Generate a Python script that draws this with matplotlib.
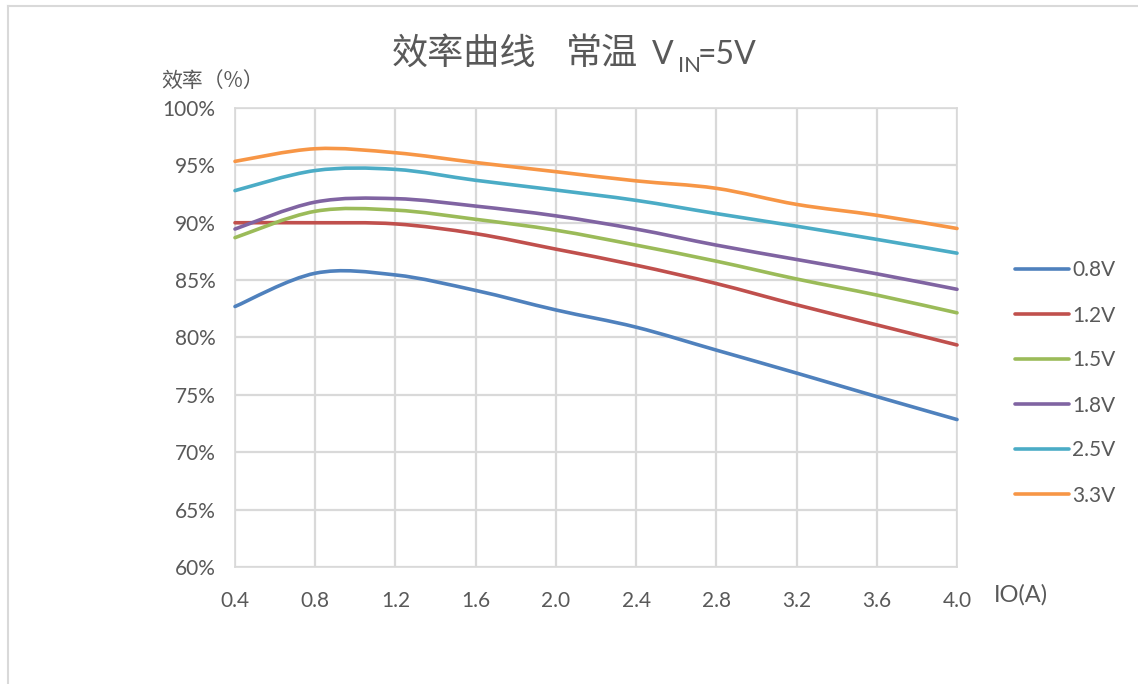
import numpy as np
import matplotlib
matplotlib.use("Agg")
import matplotlib.pyplot as plt
from matplotlib.path import Path
from matplotlib.patches import PathPatch
from matplotlib.lines import Line2D
from matplotlib.ticker import FuncFormatter, MultipleLocator

plt.rcParams['font.family'] = ['Lato', 'Noto Sans CJK SC', 'DejaVu Sans']

# Output current (A)
io = [0.4, 0.8, 1.2, 1.6, 2.0, 2.4, 2.8, 3.2, 3.6, 4.0]

# Efficiency (%) per output voltage
eff_0v8 = [82.7, 85.6, 85.45, 84.1, 82.4, 80.9, 78.9, 76.9, 74.85, 72.85]
eff_1v2 = [90.0, 90.0, 89.9, 89.05, 87.7, 86.3, 84.7, 82.85, 81.1, 79.35]
eff_1v5 = [88.7, 91.0, 91.1, 90.3, 89.35, 88.05, 86.65, 85.1, 83.7, 82.15]
eff_1v8 = [89.45, 91.8, 92.1, 91.45, 90.6, 89.45, 88.05, 86.8, 85.55, 84.2]
eff_2v5 = [92.8, 94.55, 94.65, 93.7, 92.85, 91.95, 90.8, 89.7, 88.55, 87.35]
eff_3v3 = [95.35, 96.45, 96.1, 95.25, 94.45, 93.65, 93.0, 91.6, 90.65, 89.5]

series_labels = ['0.8V', '1.2V', '1.5V', '1.8V', '2.5V', '3.3V']
series_values = [eff_0v8, eff_1v2, eff_1v5, eff_1v8, eff_2v5, eff_3v3]
series_colors = ['#4F81BD', '#C0504D', '#9BBB59', '#8064A2', '#4BACC6', '#F79646']

x_ticks = [0.4, 0.8, 1.2, 1.6, 2.0, 2.4, 2.8, 3.2, 3.6, 4.0]

TEXT = '#595959'
GRID = '#D9D9D9'
W, H = 1138, 684


def smooth_path(xs, ys):
    """Cubic Bezier path through the points (Catmull-Rom style tangents)."""
    pts = np.column_stack([xs, ys]).astype(float)
    n = len(pts)
    verts = [pts[0]]
    codes = [Path.MOVETO]
    for i in range(n - 1):
        p0 = pts[i - 1] if i > 0 else pts[i]
        p1 = pts[i]
        p2 = pts[i + 1]
        p3 = pts[i + 2] if i + 2 < n else pts[i + 1]
        c1 = p1 + (p2 - p0) / 6.0
        c2 = p2 - (p3 - p1) / 6.0
        verts += [c1, c2, p2]
        codes += [Path.CURVE4] * 3
    return Path(verts, codes)


def fx(px):
    return px / W


def fy(py):
    return 1 - py / H


fig = plt.figure(figsize=(W / 100, H / 100), dpi=100)
ax = fig.add_axes([fx(235), fy(567), (957 - 235) / W, (567 - 108) / H])

ax.set_xlim(0.4, 4.0)
ax.set_ylim(60, 100)
ax.set_xticks(x_ticks)
ax.set_xticklabels([f'{v:.1f}' for v in x_ticks])
ax.yaxis.set_major_locator(MultipleLocator(5))
ax.yaxis.set_major_formatter(FuncFormatter(lambda v, p: f'{v:.0f}%'))
ax.grid(True, color=GRID, linewidth=1.6)
ax.set_axisbelow(True)
ax.tick_params(length=0, labelsize=15, labelcolor=TEXT)
ax.tick_params(axis='x', pad=17)
ax.tick_params(axis='y', pad=14)
for s in ax.spines.values():
    s.set_color(GRID)
    s.set_linewidth(1.2)

handles = []
for lab, vals, col in zip(series_labels, series_values, series_colors):
    patch = PathPatch(smooth_path(io, vals), facecolor='none', edgecolor=col,
                      linewidth=2.6, capstyle='round', joinstyle='round',
                      transform=ax.transData, zorder=3)
    patch.set_clip_on(False)
    ax.add_patch(patch)
    handles.append(Line2D([], [], color=col, linewidth=2.6, solid_capstyle='round'))

fig.legend(handles, series_labels, loc='center left',
           bbox_to_anchor=(fx(996), fy(383)), frameon=False,
           fontsize=15, labelcolor=TEXT, handlelength=2.6,
           handletextpad=0.15, labelspacing=1.2)

# Title, with V_IN subscript
cjk = ['Noto Sans CJK SC', 'DejaVu Sans']
base = fy(64)
fig.text(fx(392), base, '效率曲线', fontsize=26, color=TEXT, va='baseline',
         ha='left', family=cjk)
fig.text(fx(566), base, '常温', fontsize=26, color=TEXT, va='baseline',
         ha='left', family=cjk)
fig.text(fx(652), base, 'V', fontsize=23, color=TEXT, va='baseline', ha='left')
fig.text(fx(678), fy(72), 'IN', fontsize=16, color=TEXT, va='baseline', ha='left')
fig.text(fx(698), base, '=5V', fontsize=23, color=TEXT, va='baseline', ha='left')

fig.text(fx(161), fy(81), '效率（%）', fontsize=15, color=TEXT,
         va='center', ha='left', family=cjk)
fig.text(fx(994), fy(595), 'IO(A)', fontsize=17, color=TEXT,
         va='center', ha='left')

# Chart frame edges
fig.add_artist(Line2D([fx(8), fx(8)], [0, fy(6)], color=GRID,
                      linewidth=1.5, transform=fig.transFigure))
fig.add_artist(Line2D([fx(8), 1], [fy(6), fy(6)], color=GRID,
                      linewidth=1.5, transform=fig.transFigure))

fig.savefig('out.png', dpi=100)
